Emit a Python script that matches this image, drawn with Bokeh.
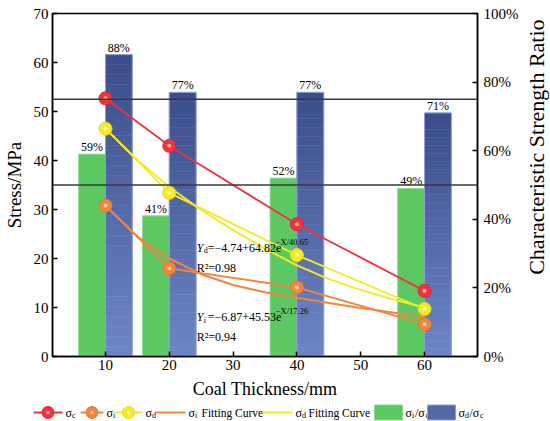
import math
from bokeh.plotting import figure
from bokeh.models import Range1d, LinearAxis, FixedTicker, PrintfTickFormatter, Span
from bokeh.layouts import column, row
from bokeh.embed import file_html
from bokeh.resources import INLINE
from bokeh.core.properties import value

# ---------------- data ----------------
thickness = [10, 20, 40, 60]
sigma_c = [52.7, 43.0, 27.0, 13.4]
sigma_i = [30.8, 18.0, 14.1, 6.6]
sigma_d = [46.5, 33.4, 20.7, 9.7]
ratio_i = [59, 41, 52, 49]          # sigma_i / sigma_c, %
ratio_d = [88, 77, 77, 71]          # sigma_d / sigma_c, %
fit_x = [10, 15, 20, 25, 30, 35, 40, 45, 50, 55, 60]
fit_i = [30.8, 24.5, 20.0, 16.8, 14.6, 13.1, 12.0, 10.9, 9.9, 9.0, 8.1]
fit_d = [46.5, 40.1, 34.6, 29.9, 25.8, 22.0, 18.6, 15.8, 13.6, 11.7, 10.0]
ref_ratios = [50, 75]
x_ticks = [10, 20, 30, 40, 50, 60]
stress_ticks = [0, 10, 20, 30, 40, 50, 60, 70]
pct_ticks = [0, 20, 40, 60, 80, 100]
eq_d = ("d", "=\u22124.74+64.82e", "\u2212X/40.65", "R\u00b2=0.98")
eq_i = ("i", "=\u22126.87+45.53e", "\u2212X/17.26", "R\u00b2=0.94")
right_label = "Characteristic Strength Ratio"

FN = "Liberation Serif"
F = value(FN)
RED, ORANGE, YELLOW = "#f0343f", "#f5843c", "#f5ea28"
GREEN = "#5cc862"
BLUE_TOP, BLUE_BOT = (0x3a, 0x4d, 0x88), (0x6e, 0x86, 0xc6)

H = 403
p = figure(width=524, height=H, x_range=Range1d(1.7, 68.3), y_range=Range1d(0, 70),
           output_backend="svg", toolbar_location=None,
           min_border_left=52, min_border_right=47, min_border_top=13, min_border_bottom=47)
p.extra_y_ranges = {"pct": Range1d(0, 100)}
p.grid.visible = False
p.outline_line_color = "black"
p.outline_line_width = 1.5
p.background_fill_color = "white"
p.border_fill_color = "white"

def style_axis(ax):
    ax.axis_line_width = 1.5
    ax.axis_line_color = "black"
    ax.major_tick_in = 5
    ax.major_tick_out = 0
    ax.major_tick_line_width = 1.5
    ax.minor_tick_line_color = None
    ax.major_label_text_font = FN
    ax.major_label_text_font_size = "15px"
    ax.major_label_text_color = "black"
    ax.major_label_standoff = 4
    ax.axis_label_text_font = FN
    ax.axis_label_text_font_size = "18px"
    ax.axis_label_text_font_style = "normal"
    ax.axis_label_text_color = "black"
    ax.axis_label_standoff = 3

p.xaxis.ticker = FixedTicker(ticks=x_ticks)
p.xaxis.axis_label = "Coal Thickness/mm"
p.yaxis.ticker = FixedTicker(ticks=stress_ticks)
p.yaxis.axis_label = "Stress/MPa"
style_axis(p.xaxis[0])
style_axis(p.yaxis[0])
p.xaxis.major_label_standoff = 3
p.xaxis.axis_label_standoff = 6
p.yaxis.axis_label_text_font_size = "19px"
p.yaxis.axis_label_standoff = 6

rax = LinearAxis(y_range_name="pct", ticker=FixedTicker(ticks=pct_ticks),
                 formatter=PrintfTickFormatter(format="%d%%"))
style_axis(rax)
rax.major_label_standoff = 6
p.add_layout(rax, "right")

# ---------------- bars ----------------
bw = 4.2
xg = [t - bw / 2 for t in thickness]
xb = [t + bw / 2 for t in thickness]
p.vbar(x=xg, top=ratio_i, width=bw, y_range_name="pct",
       fill_color=GREEN, line_color="#8ad88e", line_width=1)

n = 30
for k in range(n):
    f = (k + 0.5) / n
    c = tuple(int(round(BLUE_BOT[j] + (BLUE_TOP[j] - BLUE_BOT[j]) * f)) for j in range(3))
    col = "#%02x%02x%02x" % c
    p.vbar(x=xb, bottom=[r * k / n for r in ratio_d], top=[r * (k + 1) / n for r in ratio_d],
           width=bw, y_range_name="pct", fill_color=col, line_color=col, line_width=0.5)
p.vbar(x=xb, top=ratio_d, width=bw, y_range_name="pct", fill_color=None,
       line_color="#8fa0d6", line_width=1)

p.text(x=xg, y=ratio_i, text=["%d%%" % r for r in ratio_i], y_range_name="pct",
       text_font=F, text_font_size="12px", text_align="center", text_baseline="bottom",
       text_color="black")
p.text(x=xb, y=ratio_d, text=["%d%%" % r for r in ratio_d], y_range_name="pct",
       text_font=F, text_font_size="12px", text_align="center", text_baseline="bottom",
       text_color="black")

for r in ref_ratios:
    p.add_layout(Span(location=r, dimension="width", y_range_name="pct",
                      line_color="#3a3a3a", line_width=1.3))

# ---------------- fit curves ----------------
p.line(fit_x, fit_i, line_color=ORANGE, line_width=2)
p.line(fit_x, fit_d, line_color=YELLOW, line_width=2)

# ---------------- data lines ----------------
for ys, c, lc in ((sigma_c, RED, "#e02430"), (sigma_i, ORANGE, "#e8762c"), (sigma_d, YELLOW, "#e6d81c")):
    p.line(thickness, ys, line_color=c, line_width=1.8)
    p.scatter(thickness, ys, size=13, fill_color=c, line_color=lc, line_width=1)
    p.scatter(thickness, ys, size=4, fill_color="white", fill_alpha=0.6, line_color=None)

# ---------------- equations ----------------
def equation(x, y, eq):
    sub, body, sup, r2 = eq
    kw = dict(text_font=F, text_baseline="alphabetic", text_color="black")
    p.text(x=[x], y=[y], text=["Y"], text_font_size="12px", text_font_style="italic", **kw)
    p.text(x=[x], y=[y], text=[sub], text_font_size="8px", x_offset=7, y_offset=3, **kw)
    p.text(x=[x], y=[y], text=[body], text_font_size="12px", x_offset=11, **kw)
    p.text(x=[x], y=[y], text=[sup], text_font_size="8.5px", x_offset=79, y_offset=-6, **kw)
    p.text(x=[x], y=[y - 4.1], text=[r2], text_font_size="12px", **kw)

equation(24.3, 22.2, eq_d)
equation(24.3, 8.0, eq_i)

# ---------------- right axis title (separate strip) ----------------
lab = figure(width=26, height=H, x_range=Range1d(0, 26), y_range=Range1d(0, H),
             output_backend="svg", toolbar_location=None, min_border=0)
lab.axis.visible = False
lab.grid.visible = False
lab.outline_line_color = None
lab.text(x=[12], y=[H - 157], text=[right_label], angle=math.pi / 2,
         text_font=F, text_font_size="22px", text_align="center", text_baseline="middle",
         text_color="black")

# ---------------- legend ----------------
lg = figure(width=550, height=18, x_range=Range1d(0, 550), y_range=Range1d(0, 18),
            output_backend="svg", toolbar_location=None, min_border=0)
lg.axis.visible = False
lg.grid.visible = False
lg.outline_line_color = None
yc = 9
tk = dict(text_font=F, text_baseline="middle", text_color="black")

def sig(x, sub, rest=None):
    lg.text(x=[x], y=[yc], text=["\u03c3"], text_font_size="12px", **tk)
    lg.text(x=[x + 6.5], y=[yc - 3], text=[sub], text_font_size="8px", **tk)
    if rest:
        lg.text(x=[x + 13], y=[yc], text=[rest], text_font_size="11.5px", **tk)

for (x0, x1), c, lc, s in (((33, 62), RED, "#e02430", "c"), ((80, 103), ORANGE, "#e8762c", "i"),
                           ((114, 142), YELLOW, "#e6d81c", "d")):
    lg.line([x0, x1], [yc, yc], line_color=c, line_width=1.8)
    lg.scatter([(x0 + x1) / 2], [yc], size=12, fill_color=c, line_color=lc)
    lg.scatter([(x0 + x1) / 2], [yc], size=3.5, fill_color="white", fill_alpha=0.6, line_color=None)
    sig(x1 + 3, s)

lg.line([155, 185], [yc, yc], line_color=ORANGE, line_width=2)
sig(188, "i", "Fitting Curve")
lg.line([262, 292], [yc, yc], line_color=YELLOW, line_width=2)
sig(295, "d", "Fitting Curve")

lg.quad(left=[374], right=[402], bottom=[1.5], top=[16.5], fill_color=GREEN, line_color="#8ad88e")
sig(405, "i")
lg.text(x=[414.5], y=[yc], text=["/\u03c3"], text_font_size="12px", **tk)
lg.text(x=[425], y=[yc - 3], text=["c"], text_font_size="8px", **tk)

lg.quad(left=[427], right=[455], bottom=[1.5], top=[16.5], fill_color="#5468a6", line_color="#8fa0d6")
sig(458, "d")
lg.text(x=[469], y=[yc], text=["/\u03c3"], text_font_size="12px", **tk)
lg.text(x=[479.5], y=[yc - 3], text=["c"], text_font_size="8px", **tk)

layout = column(row(p, lab, spacing=0), lg, spacing=0)
open("out.html", "w").write(file_html(layout, INLINE))
